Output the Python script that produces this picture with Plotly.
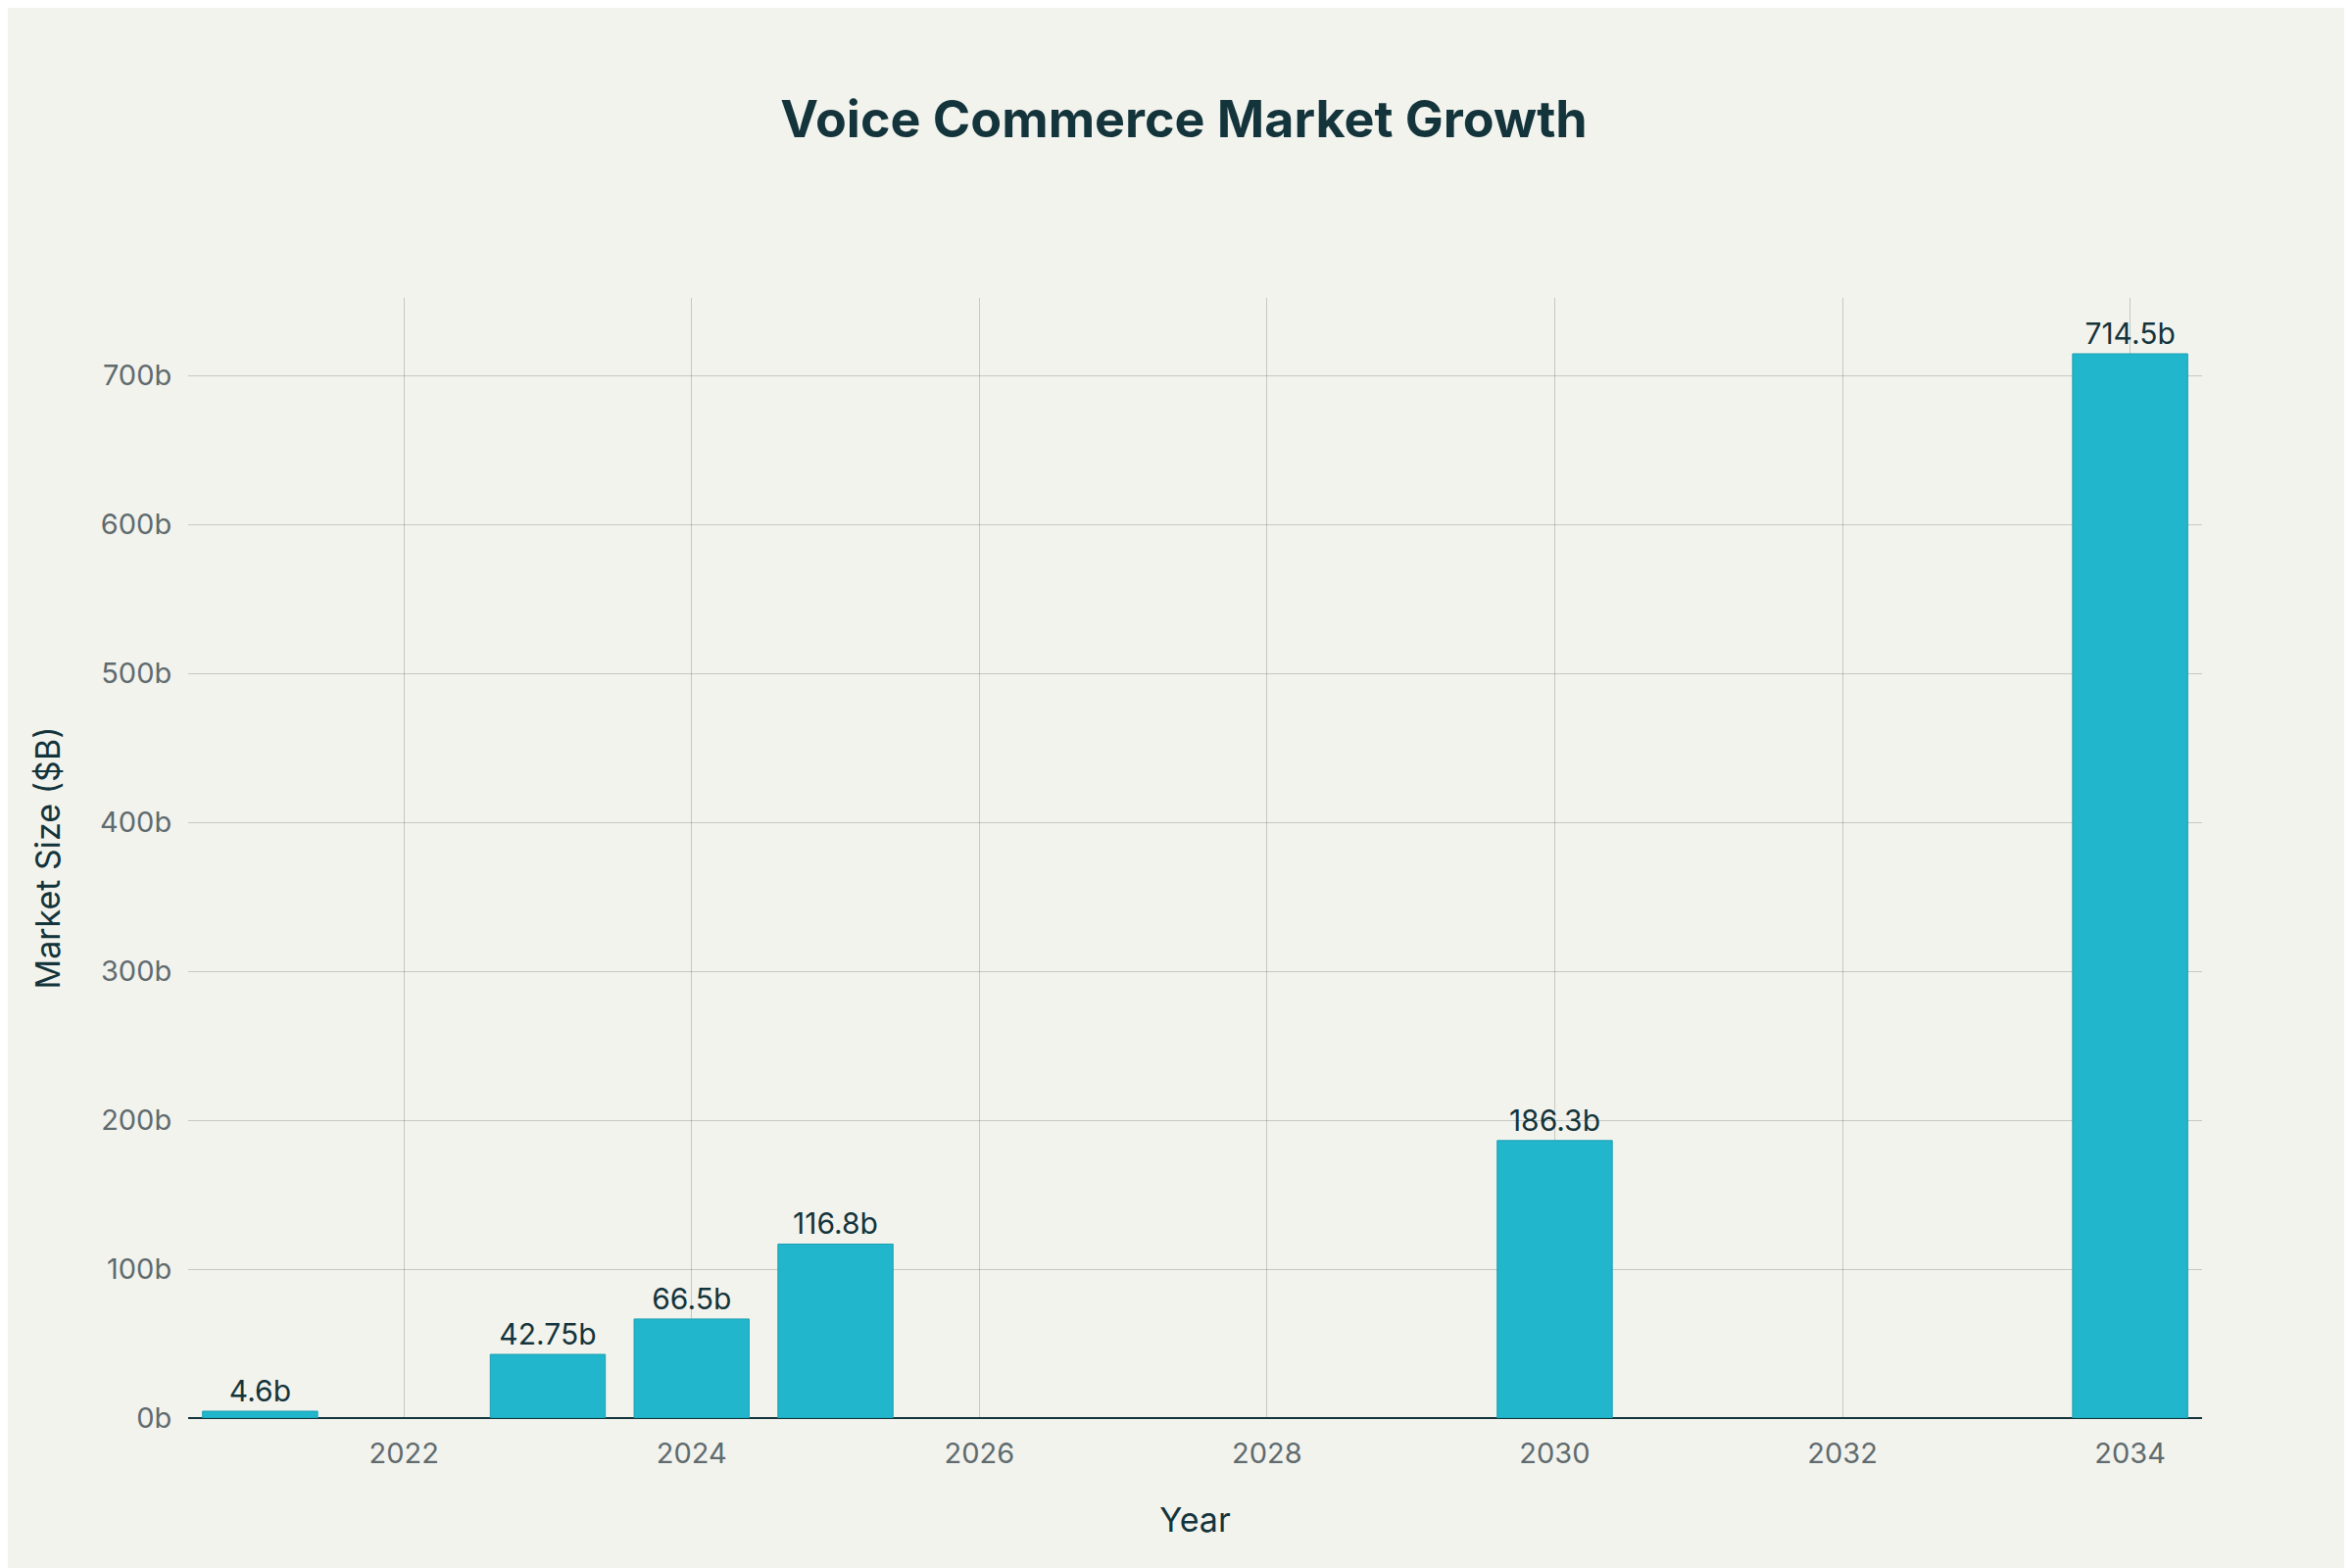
import plotly.graph_objects as go

years = [2021, 2023, 2024, 2025, 2030, 2034]
values = [4.6, 42.75, 66.5, 116.8, 186.3, 714.5]
labels = ["4.6b", "42.75b", "66.5b", "116.8b", "186.3b", "714.5b"]
tick_vals = [0, 100, 200, 300, 400, 500, 600, 700]
tick_text = ["0b", "100b", "200b", "300b", "400b", "500b", "600b", "700b"]

fig = go.Figure(go.Bar(
    x=years, y=values, text=labels, textposition="outside",
    marker=dict(color="#21B6CB", line=dict(color="#1a9fb2", width=1)),
    textfont=dict(size=30, color="#13343B"), cliponaxis=False,
))
fig.update_layout(
    width=2400, height=1600,
    paper_bgcolor="#F3F3EE", plot_bgcolor="#F3F3EE",
    font=dict(family="Inter, sans-serif", color="#13343B"),
    title=dict(text="<b>Voice Commerce Market Growth</b>", x=0.5, xanchor="center",
               y=0.94, font=dict(size=52, color="#13343B")),
    margin=dict(l=184, r=161, t=296, b=161),
    showlegend=False, bargap=0.2,
)
fig.update_xaxes(title=dict(text="Year", font=dict(size=34), standoff=40), range=[2020.5, 2034.5],
                 dtick=2, tick0=2022, gridcolor="rgba(0,0,0,0.18)",
                 ticks="outside", ticklen=10, tickcolor="rgba(0,0,0,0)",
                 tickfont=dict(size=29, color="#5f6b6e"), showline=False, zeroline=False)
fig.update_yaxes(title=dict(text="Market Size ($B)", font=dict(size=34), standoff=30), range=[0, 752],
                 tickvals=tick_vals, ticktext=tick_text, gridcolor="rgba(0,0,0,0.18)",
                 ticks="outside", ticklen=10, tickcolor="rgba(0,0,0,0)",
                 tickfont=dict(size=29, color="#5f6b6e"), zeroline=True,
                 zerolinecolor="#13343B", zerolinewidth=2)
fig.write_html("out.html")
